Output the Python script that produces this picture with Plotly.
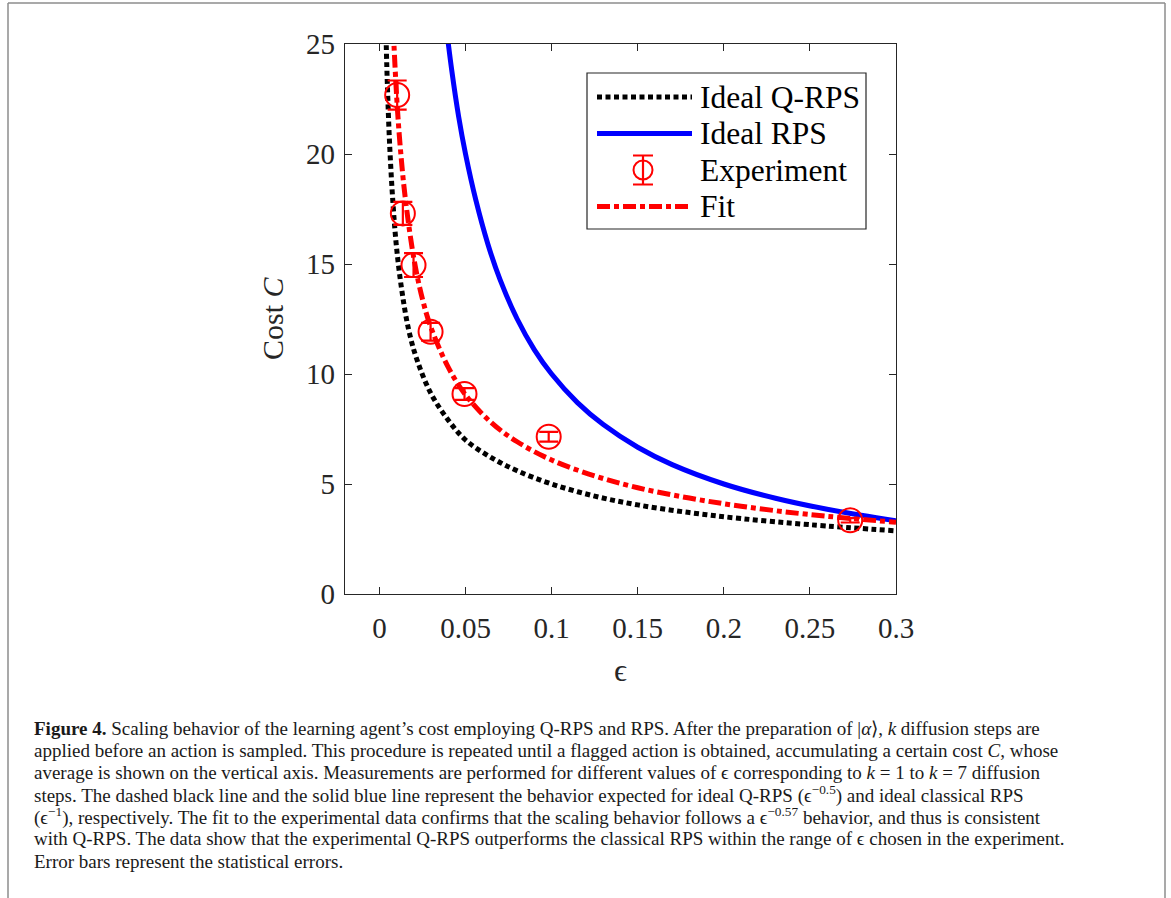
import plotly.graph_objects as go

# ---------------- data ----------------
eps_exp = [0.0103, 0.0136, 0.0198, 0.0297, 0.0494, 0.0983, 0.2734]
cost_exp = [22.68, 17.30, 14.95, 11.92, 9.09, 7.15, 3.35]
err_exp = [0.66, 0.52, 0.54, 0.40, 0.27, 0.22, 0.10]

eps_qrps = [0.0035, 0.0045, 0.006, 0.008, 0.01, 0.013, 0.017, 0.022, 0.03, 0.04,
            0.05, 0.065, 0.08, 0.1, 0.125, 0.15, 0.18, 0.21, 0.25, 0.3]
cost_qrps = [26.5, 23.4, 20.3, 17.6, 15.7, 13.8, 12.0, 10.6, 9.1, 7.9,
             7.0, 6.2, 5.6, 5.0, 4.45, 4.05, 3.7, 3.43, 3.15, 2.87]

eps_rps = [0.038, 0.042, 0.046, 0.05, 0.056, 0.063, 0.07, 0.08, 0.09, 0.1,
           0.115, 0.13, 0.15, 0.17, 0.2, 0.23, 0.26, 0.3]
cost_rps = [26.3, 23.8, 21.7, 20.0, 17.9, 15.9, 14.3, 12.5, 11.1, 10.0,
            8.7, 7.7, 6.67, 5.88, 5.0, 4.35, 3.85, 3.33]

eps_fit = [0.008, 0.01, 0.012, 0.015, 0.02, 0.025, 0.03, 0.04, 0.05, 0.065,
           0.08, 0.1, 0.125, 0.15, 0.18, 0.21, 0.25, 0.3]
cost_fit = [25.7, 22.6, 20.4, 18.0, 15.25, 13.4, 12.1, 10.3, 9.05, 7.79,
            6.92, 6.09, 5.37, 4.83, 4.36, 3.99, 3.61, 3.26]

x_ticks = [0, 0.05, 0.1, 0.15, 0.2, 0.25, 0.3]
x_tick_labels = ["0", "0.05", "0.1", "0.15", "0.2", "0.25", "0.3"]
y_ticks = [0, 5, 10, 15, 20, 25]
y_tick_labels = ["0", "5", "10", "15", "20", "25"]
legend_labels = ["Ideal Q-RPS", "Ideal RPS", "Experiment", "Fit"]

caption_lines = [
    "<b>Figure 4.</b> Scaling behavior of the learning agent\u2019s cost employing Q-RPS and RPS. After the preparation of |<i>\u03b1</i>\u27e9, <i>k</i> diffusion steps are",
    "applied before an action is sampled. This procedure is repeated until a flagged action is obtained, accumulating a certain cost <i>C</i>, whose",
    "average is shown on the vertical axis. Measurements are performed for different values of \u03f5 corresponding to <i>k</i> = 1 to <i>k</i> = 7 diffusion",
    "steps. The dashed black line and the solid blue line represent the behavior expected for ideal Q-RPS (\u03f5<sup>\u22120.5</sup>) and ideal classical RPS",
    "(\u03f5<sup>\u22121</sup>), respectively. The fit to the experimental data confirms that the scaling behavior follows a \u03f5<sup>\u22120.57</sup> behavior, and thus is consistent",
    "with Q-RPS. The data show that the experimental Q-RPS outperforms the classical RPS within the range of \u03f5 chosen in the experiment.",
    "Error bars represent the statistical errors.",
]

# ---------------- layout geometry (page pixels) ----------------
W, H = 1171, 898
L, R, T, B = 345, 896, 44, 594  # plot area in page pixels
AX = "#262626"
SERIF = "Liberation Serif, Times New Roman, serif"
RED = "#FF0000"
BLUE = "#0000FF"
DOT = "5px,3.5px"
DASHDOT = "13px,4px,5px,4px"


def px(xp):
    return (xp - L) / (R - L)


def py(yp):
    return (B - yp) / (B - T)


fig = go.Figure()

fig.add_trace(go.Scatter(x=eps_qrps, y=cost_qrps, mode="lines", line_shape="spline",
                         line=dict(color="black", width=5, dash=DOT), showlegend=False))
fig.add_trace(go.Scatter(x=eps_rps, y=cost_rps, mode="lines", line_shape="spline",
                         line=dict(color=BLUE, width=5), showlegend=False))
fig.add_trace(go.Scatter(x=eps_exp, y=cost_exp, mode="markers",
                         marker=dict(symbol="circle-open", size=24, color=RED,
                                     line=dict(width=2, color=RED)),
                         error_y=dict(type="data", array=err_exp, color=RED,
                                      thickness=2.2, width=9.5),
                         showlegend=False))
fig.add_trace(go.Scatter(x=eps_fit, y=cost_fit, mode="lines", line_shape="spline",
                         line=dict(color=RED, width=5, dash=DASHDOT), showlegend=False))

# ---------------- manual legend on a pixel-coordinate overlay axis ----------------
leg_x0, leg_x1 = 597, 692
rows = [97, 133.5, 170, 206.5]
fig.add_trace(go.Scatter(x=[leg_x0, leg_x1], y=[rows[0]] * 2, mode="lines", xaxis="x2", yaxis="y2",
                         line=dict(color="black", width=5, dash=DOT), showlegend=False))
fig.add_trace(go.Scatter(x=[leg_x0, leg_x1], y=[rows[1]] * 2, mode="lines", xaxis="x2", yaxis="y2",
                         line=dict(color=BLUE, width=5), showlegend=False))
fig.add_trace(go.Scatter(x=[643], y=[rows[2]], mode="markers", xaxis="x2", yaxis="y2",
                         marker=dict(symbol="circle-open", size=19, color=RED,
                                     line=dict(width=2, color=RED)),
                         error_y=dict(type="constant", value=14.5, color=RED, thickness=2.2, width=10),
                         showlegend=False))
fig.add_trace(go.Scatter(x=[leg_x0, leg_x1], y=[rows[3]] * 2, mode="lines", xaxis="x2", yaxis="y2",
                         line=dict(color=RED, width=5, dash=DASHDOT), showlegend=False))

FRAME = "#8c8c8c"
shapes = [
    dict(type="rect", xref="x2", yref="y2", x0=587, x1=866, y0=73, y1=229,
         line=dict(color=AX, width=1.2), fillcolor="white", layer="below"),
    # outer frame of the figure panel
    dict(type="line", xref="paper", yref="paper", x0=px(8), x1=px(1165), y0=py(3), y1=py(3),
         line=dict(color=FRAME, width=1.5)),
    dict(type="line", xref="paper", yref="paper", x0=px(8), x1=px(8), y0=py(3), y1=py(900),
         line=dict(color=FRAME, width=1.5)),
    dict(type="line", xref="paper", yref="paper", x0=px(1165), x1=px(1165), y0=py(3), y1=py(900),
         line=dict(color=FRAME, width=1.5)),
]

annotations = []
for lbl, yr in zip(legend_labels, rows):
    annotations.append(dict(xref="x2", yref="y2", x=698, y=yr, text=lbl, showarrow=False,
                            xanchor="left", yanchor="middle",
                            font=dict(family=SERIF, size=31.5, color="black")))

# axis titles
annotations.append(dict(xref="paper", yref="paper", x=px(272), y=py(318), text="Cost <i>C</i>",
                        textangle=-90, showarrow=False, xanchor="center", yanchor="middle",
                        font=dict(family=SERIF, size=30, color=AX)))
annotations.append(dict(xref="paper", yref="paper", x=px(620), y=py(670), text="\u03f5",
                        showarrow=False, xanchor="center", yanchor="middle",
                        font=dict(family=SERIF, size=32, color=AX)))

# caption
cap_y = [728, 750, 772, 794, 816, 839, 861]
for line, yc in zip(caption_lines, cap_y):
    annotations.append(dict(xref="paper", yref="paper", x=px(32), y=py(yc), text=line,
                            showarrow=False, xanchor="left", yanchor="middle",
                            font=dict(family=SERIF, size=19, color="#1a1a1a")))

axis_common = dict(showline=True, linecolor=AX, linewidth=1.3, mirror="allticks",
                   ticks="inside", ticklen=7, tickwidth=1.3, tickcolor=AX,
                   showgrid=False, zeroline=False,
                   tickfont=dict(family=SERIF, size=29, color=AX))

fig.update_layout(
    width=W, height=H,
    margin=dict(l=L, r=W - R, t=T, b=H - B, autoexpand=False),
    paper_bgcolor="white", plot_bgcolor="white",
    showlegend=False,
    xaxis=dict(range=[-0.02, 0.3], tickvals=x_ticks, ticktext=x_tick_labels,
               ticklabelstandoff=8, **axis_common),
    yaxis=dict(range=[0, 25], tickvals=y_ticks, ticktext=y_tick_labels,
               ticklabelstandoff=3, **axis_common),
    xaxis2=dict(overlaying="x", range=[L, R], visible=False, fixedrange=True),
    yaxis2=dict(overlaying="y", range=[B, T], visible=False, fixedrange=True),
    shapes=shapes,
    annotations=annotations,
)

fig.write_html("out.html", config={"displayModeBar": False},
               post_script="document.body.style.margin='0px';")
